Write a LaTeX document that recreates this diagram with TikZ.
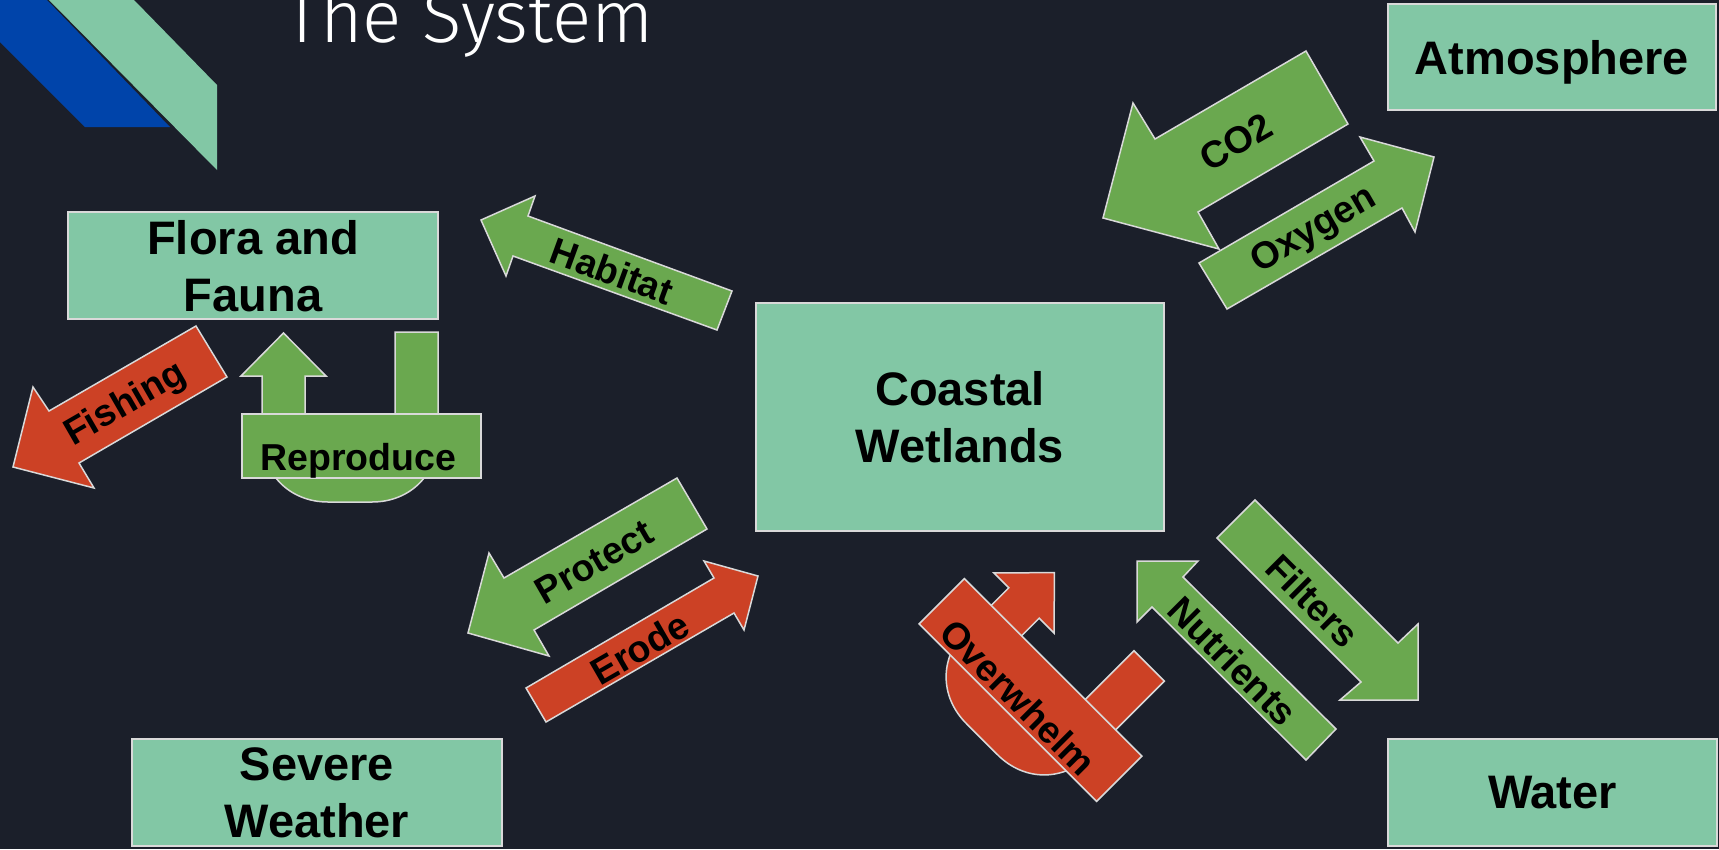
\documentclass[tikz,border=0pt]{standalone}
\usepackage{fontspec}
\setmainfont{Liberation Sans}
\newfontfamily\titlefont{Fira Sans Light}
\definecolor{bg}{RGB}{27,31,42}
\definecolor{boxfill}{RGB}{130,199,165}
\definecolor{arrgreen}{RGB}{106,168,79}
\definecolor{arrred}{RGB}{204,65,37}
\definecolor{decoblue}{RGB}{0,68,170}
\definecolor{edge}{RGB}{217,217,217}
\tikzset{
  box/.style={draw=edge, line width=1.5pt, fill=boxfill, inner sep=0pt, align=center,
    font=\fontsize{47}{57}\selectfont\bfseries, text depth=0pt},
  garrow/.style={draw=edge, line width=1.5pt, fill=arrgreen},
  rarrow/.style={draw=edge, line width=1.5pt, fill=arrred},
  lbl/.style={font=\fontsize{37.5}{44}\selectfont\bfseries, inner sep=0pt, text=black},
  tbox/.style={draw=edge, line width=1.5pt, inner sep=0pt},
}
\begin{document}
\begin{tikzpicture}[x=1pt,y=-1pt]
\fill[bg] (0,0) rectangle (1719,849);
\useasboundingbox (0,0) rectangle (1719,849);

% decoration
\fill[decoblue] (0,0) -- (47,0) -- (170,127) -- (85,127) -- (0,42) -- cycle;
\fill[boxfill] (49,0) -- (134,0) -- (217,85) -- (217,170) -- cycle;

% title
\node[anchor=base west, inner sep=0pt, text=white, font=\titlefont\fontsize{73}{73}\selectfont] (title) at (284,42) {The System};

% boxes
\node[box, minimum width=370pt, minimum height=107pt] (flora) at (253,265.5) {Flora and\\Fauna};
\node[box, minimum width=328pt, minimum height=106pt] (atmo) at (1552,57) {Atmosphere};
\node[box, minimum width=408pt, minimum height=228pt] (coastal) at (960,417) {Coastal\\Wetlands};
\node[box, minimum width=370pt, minimum height=107pt] (severe) at (317,792.5) {Severe\\Weather};
\node[box, minimum width=329pt, minimum height=107pt] (water) at (1552.5,792.5) {Water};

% Fishing
\draw[rarrow] (13,467) -- (33,387) -- (49,411) -- (196,326) -- (227,377) -- (79,463) -- (94,488) -- cycle;
\node[lbl, rotate=30] (fishing) at (126,405) {Fishing};

% Reproduce (u-turn)
\begin{scope}[shift={(283.5,376)}]
\draw[garrow] (-21.5,0) -- (-42.5,0) -- (0,-43) -- (42.5,0) -- (21.5,0) -- (21.5,63)
  .. controls (21.5,74) and (30.5,83) .. (41.5,83) -- (91.5,83)
  .. controls (102.5,83) and (111.5,74) .. (111.5,63) -- (111.5,-44) -- (154.5,-44) -- (154.5,60)
  .. controls (154.5,98.2) and (126.7,126) .. (88.5,126) -- (44.5,126)
  .. controls (6.3,126) and (-21.5,98.2) .. (-21.5,60) -- cycle;
\end{scope}
\node[tbox, fill=arrgreen, minimum width=239pt, minimum height=64pt] (reprobox) at (361.5,446) {};
\node[lbl, anchor=base] (reproduce) at (358.5,470) {Reproduce};

% Habitat
\draw[garrow] (481,220) -- (535,196) -- (528,216) -- (732,291) -- (717,330) -- (513,256) -- (506,276) -- cycle;
\node[lbl, rotate=-20] (habitat) at (612,271) {Habitat};

% Protect / Erode
\draw[garrow] (468,633) -- (489,553) -- (504,578) -- (677,478) -- (707,529) -- (534,630) -- (549,656) -- cycle;
\node[lbl, rotate=30] (protect) at (594,562) {Protect};
\draw[rarrow] (526,688) -- (714,578) -- (704,561) -- (758,576) -- (744,630) -- (734,613) -- (546,722) -- cycle;
\node[lbl, rotate=30] (erode) at (640,648) {Erode};

% CO2 / Oxygen
\draw[garrow] (1103,218) -- (1133,103) -- (1155,139) -- (1306,51) -- (1348,124) -- (1198,212) -- (1219,249) -- cycle;
\node[lbl, rotate=30] (co2) at (1236,142) {CO2};
\draw[garrow] (1199,263) -- (1374,161) -- (1360,137) -- (1434,157) -- (1415,232) -- (1402,208) -- (1227,309) -- cycle;
\node[lbl, rotate=30] (oxygen) at (1314,231) {Oxygen};

% Overwhelm (u-turn rotated)
\begin{scope}[shift={(1024,603)}, rotate=-45]
\draw[rarrow] (-21.5,0) -- (-42.5,0) -- (0,-43) -- (42.5,0) -- (21.5,0) -- (21.5,63)
  .. controls (21.5,74) and (30.5,83) .. (41.5,83) -- (91.5,83)
  .. controls (102.5,83) and (111.5,74) .. (111.5,63) -- (111.5,-44) -- (154.5,-44) -- (154.5,60)
  .. controls (154.5,98.2) and (126.7,126) .. (88.5,126) -- (44.5,126)
  .. controls (6.3,126) and (-21.5,98.2) .. (-21.5,60) -- cycle;
\end{scope}
\node[tbox, fill=arrred, minimum width=251pt, minimum height=64pt, rotate=-45] (overbox) at (1030.5,690) {};
\node[lbl, rotate=-45] (overwhelm) at (1018,697) {Overwhelm};

% Nutrients / Filters
\draw[garrow] (1137,561) -- (1198,561) -- (1183,577) -- (1336,729) -- (1306,760) -- (1152,607) -- (1137,622) -- cycle;
\node[lbl, rotate=-45] (nutrients) at (1233,661) {Nutrients};
\draw[garrow] (1255,500) -- (1398,643) -- (1418,624) -- (1418,700) -- (1340,700) -- (1361,682) -- (1217,538) -- cycle;
\node[lbl, rotate=-45] (filters) at (1313,601) {Filters};
\end{tikzpicture}
\end{document}
